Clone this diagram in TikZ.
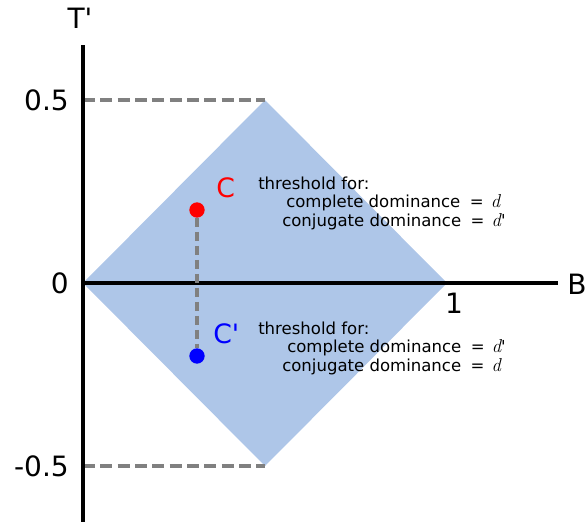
\documentclass[tikz,border=0pt]{standalone}
\usepackage{fontspec}
\setmainfont{DejaVu Sans}
\newfontfamily\lmfont{Latin Modern Roman}
\definecolor{diamondblue}{RGB}{174,198,232}
\definecolor{dashgray}{RGB}{128,128,128}
\definecolor{ptred}{RGB}{255,0,0}
\definecolor{ptblue}{RGB}{0,0,255}
\newcommand{\sq}{\textquotesingle}
\newcommand{\vd}{\hspace{0.12em}{\lmfont\itshape\fontsize{14}{15}\selectfont d}}
\begin{document}
\begin{tikzpicture}[x=0.75pt,y=-0.75pt,
  axis/.style={line width=2.6pt},
  guide/.style={draw=dashgray,line width=2.5pt,dash pattern=on 9pt off 4pt},
  linkdash/.style={draw=dashgray,line width=2.4pt,dash pattern=on 7pt off 3.5pt},
  ticklbl/.style={font=\fontsize{21}{25}\selectfont,inner sep=0pt},
  ptlbl/.style={font=\fontsize{20}{24}\selectfont,inner sep=0pt,anchor=base west},
  note/.style={font=\fontsize{12.4}{15}\selectfont,inner sep=0pt,anchor=base west},
  dot/.style={circle,inner sep=0pt,minimum size=11.5pt}
]
\useasboundingbox (0,0) rectangle (587,522);
% diamond
\coordinate (L) at (83,283);
\coordinate (T) at (265,100);
\coordinate (R) at (447,283);
\coordinate (Bt) at (265,466);
\fill[diamondblue] (L) -- (T) -- (R) -- (Bt) -- cycle;
% guides
\coordinate (yhi) at (83,100);
\coordinate (ylo) at (83,466);
\draw[guide] (yhi) -- (T);
\draw[guide] (ylo) -- (Bt);
% axes
\coordinate (ybot) at (83,522);
\coordinate (ytop) at (83,45);
\coordinate (xend) at (558,283);
\draw[axis] (ybot) -- (ytop);
\draw[axis] (L) -- (xend);
% points
\node[dot,fill=ptred] (C) at (197,210) {};
\node[dot,fill=ptblue] (Cp) at (197,356) {};
\draw[linkdash] (C) -- (Cp);
% axis labels
\node[ticklbl,anchor=base] (lT) at (80,28) {T\sq};
\node[ticklbl,anchor=west] (lB) at (567,284) {B};
\node[ticklbl,anchor=east] (l05) at (69,100) {0.5};
\node[ticklbl,anchor=east] (l0) at (69,283) {0};
\node[ticklbl,anchor=east] (lm05) at (69,466) {-0.5};
\node[ticklbl,anchor=base] (l1) at (454,313) {1};
% point labels
\node[ptlbl,text=ptred] (lC) at (216,197) {C};
\node[ptlbl,text=ptblue] (lCp) at (213,343) {C\sq};
% notes
\node[note] (n1a) at (258,189) {threshold for:};
\node[note] (n1b) at (286,207) {complete dominance\hspace{0.25em} = \vd};
\node[note] (n1c) at (282,226) {conjugate dominance\hspace{0.25em} = \vd\sq};
\node[note] (n2a) at (258,334) {threshold for:};
\node[note] (n2b) at (287,352) {complete dominance\hspace{0.25em} = \vd\sq};
\node[note] (n2c) at (282,371) {conjugate dominance\hspace{0.25em} = \vd};
\end{tikzpicture}
\end{document}
